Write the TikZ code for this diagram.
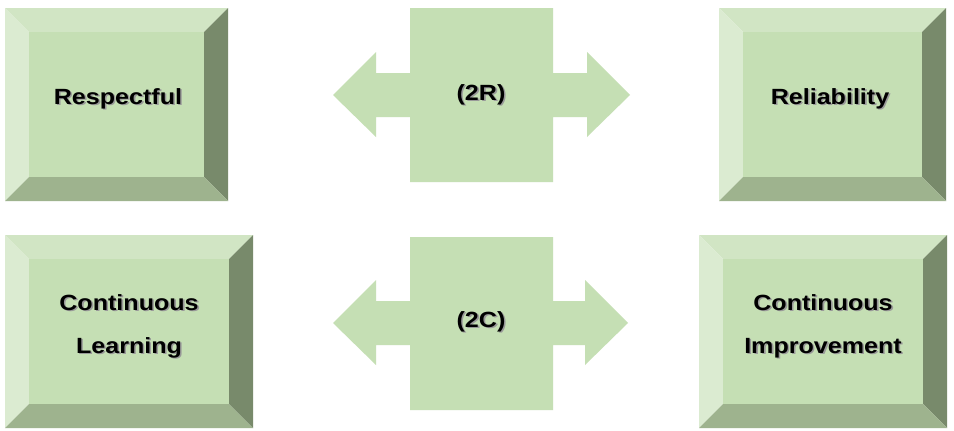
\documentclass[tikz,border=0pt]{standalone}
\usepackage{fontspec}
\newfontfamily\lblfont{Liberation Sans}[FakeStretch=1.14]
\definecolor{face}{HTML}{C5DFB4}
\definecolor{bevtop}{HTML}{D1E5C4}
\definecolor{bevleft}{HTML}{DBEBD1}
\definecolor{bevright}{HTML}{788A6B}
\definecolor{bevbot}{HTML}{9EB38E}
\newcommand\shd[1]{\makebox[0pt][l]{\raisebox{-1.6pt}{\hspace{1.6pt}\textcolor{black!40}{#1}}}#1}
% bevel box: x1,y1,x2,y2,bevel
\newcommand\bevelbox[5]{%
  \fill[bevtop]  (#1,#2) -- (#3,#2) -- (#3-#5,#2+#5) -- (#1+#5,#2+#5) -- cycle;
  \fill[bevleft] (#1,#2) -- (#1+#5,#2+#5) -- (#1+#5,#4-#5) -- (#1,#4) -- cycle;
  \fill[bevright] (#3,#2) -- (#3,#4) -- (#3-#5,#4-#5) -- (#3-#5,#2+#5) -- cycle;
  \fill[bevbot]  (#1,#4) -- (#1+#5,#4-#5) -- (#3-#5,#4-#5) -- (#3,#4) -- cycle;
  \fill[face] (#1+#5,#2+#5) rectangle (#3-#5,#4-#5);}
% cross arrow: yc (centre), y1,y2 of rect, left tip, right tip
\newcommand\crossarrow[5]{%
  \fill[face] (#4,#1) -- (376,#1-43) -- (376,#1-22) -- (410,#1-22) -- (410,#2) -- (553,#2)
    -- (553,#1-22) -- (#5-43,#1-22) -- (#5-43,#1-43) -- (#5,#1) -- (#5-43,#1+42)
    -- (#5-43,#1+22) -- (553,#1+22) -- (553,#3) -- (410,#3) -- (410,#1+22)
    -- (376,#1+22) -- (376,#1+42) -- cycle;}
\tikzset{lbl/.style={font=\lblfont\bfseries\fontsize{22pt}{43pt}\selectfont, text=black, align=center, inner sep=0pt, anchor=base}}
\begin{document}
\begin{tikzpicture}[x=1pt,y=-1pt]
\useasboundingbox (0,0) rectangle (954,431);
\fill[white] (0,0) rectangle (954,431);
\bevelbox{5}{8}{228}{201}{24}
\bevelbox{719}{8}{946}{201}{24}
\bevelbox{5}{235}{253}{428}{24}
\bevelbox{699}{235}{947}{428}{24}
\crossarrow{95}{8}{182}{333}{630}
\crossarrow{323}{237}{410}{333}{628}
\node[lbl] (resp) at (118,104) {\shd{Respectful}};
\node[lbl] (reli) at (830,104) {\shd{Reliability}};
\node[lbl] (tworr) at (481,100) {\shd{(2R)}};
\node[lbl] (twocc) at (481,327) {\shd{(2C)}};
\node[lbl] (contl) at (129,353) {\shd{Continuous}\\\shd{Learning}};
\node[lbl] (conti) at (823,353) {\shd{Continuous}\\\shd{Improvement}};
\end{tikzpicture}
\end{document}
